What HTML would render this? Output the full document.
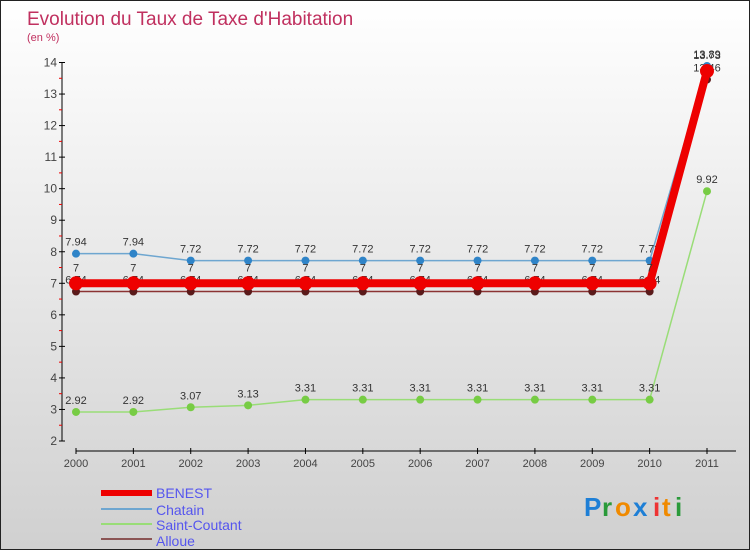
<!DOCTYPE html>
<html><head><meta charset="utf-8"><style>
body{margin:0}
#wrap{width:750px;height:550px;position:relative;overflow:hidden;font-family:"Liberation Sans",sans-serif;background:linear-gradient(#fff,#d0d0d0);box-sizing:border-box;border:1px solid #222}
</style></head><body>
<div id="wrap">
<svg id="svg" width="750" height="550" xmlns="http://www.w3.org/2000/svg">
<text x="26" y="24" font-size="19" fill="#c0305f">Evolution du Taux de Taxe d'Habitation</text>
<text x="26" y="40" font-size="11" fill="#c0305f">(en %)</text>
<g id="axes"></g><g id="series"></g>
<g font-size="14" fill="#5555ee">
<rect x="100" y="489" width="51" height="6" fill="#e00"/>
<text x="155" y="497">BENEST</text>
<rect x="100" y="507" width="51" height="2" fill="#6ea6d0"/>
<text x="155" y="514">Chatain</text>
<rect x="100" y="522" width="51" height="2" fill="#99dd77"/>
<text x="155" y="529">Saint-Coutant</text>
<rect x="100" y="537" width="51" height="2" fill="#8b5555"/>
<text x="155" y="545">Alloue</text>
</g>
<g font-size="26" font-weight="bold">
<text x="583" y="515" fill="#1e7fd6">P</text><text x="601" y="515" fill="#2a9a3a">r</text><text x="614" y="515" fill="#f08a00">o</text><text x="632" y="515" fill="#1e7fd6">x</text><text x="652" y="515" fill="#e33">i</text><text x="661" y="515" fill="#f08a00">t</text><text x="674" y="515" fill="#2a9a3a">i</text>
</g>
</svg>
</div>
<script>
const years=["2000","2001","2002","2003","2004","2005","2006","2007","2008","2009","2010","2011"];
const yTicks=[2,3,4,5,6,7,8,9,10,11,12,13,14];
const benest=[7,7,7,7,7,7,7,7,7,7,7,13.73];
const chatain=[7.94,7.94,7.72,7.72,7.72,7.72,7.72,7.72,7.72,7.72,7.72,13.89];
const saintCoutant=[2.92,2.92,3.07,3.13,3.31,3.31,3.31,3.31,3.31,3.31,3.31,9.92];
const alloue=[6.74,6.74,6.74,6.74,6.74,6.74,6.74,6.74,6.74,6.74,6.74,13.46];
const NS="http://www.w3.org/2000/svg";
const xs=i=>75+i*(706-75)/11;
const ys=v=>440-(v-2)*(440-61.5)/12;
function mk(tag,at,parent){const e=document.createElementNS(NS,tag);for(const k in at)e.setAttribute(k,at[k]);parent.appendChild(e);return e;}
const ax=document.getElementById('axes');
let yl=mk('line',{x1:61,y1:ys(14),x2:61,y2:ys(2),stroke:'#000'},ax);


yTicks.forEach(t=>{
  mk('line',{x1:58,x2:64,y1:ys(t),y2:ys(t),stroke:'#000'},ax);
  if(t<14)mk('line',{x1:58,x2:61,y1:ys(t+0.5),y2:ys(t+0.5),stroke:'#e00'},ax);
  const tx=mk('text',{x:56,y:ys(t)+4,'text-anchor':'end','font-size':12,fill:'#444'},ax);tx.textContent=t;
  
  
});
let xl=mk('line',{x1:75,y1:450,x2:735,y2:450,stroke:'#000'},ax);


years.forEach((y,i)=>{
  mk('line',{x1:xs(i),x2:xs(i),y1:447,y2:453,stroke:'#000'},ax);
  const tx=mk('text',{x:xs(i),y:466,'text-anchor':'middle','font-size':11,fill:'#444'},ax);tx.textContent=y;
  
  
});
const sg=document.getElementById('series');
function draw(name,data,color,w,r,dot,labOff){
  const g=mk('g',{},sg);
  
  
  mk('polyline',{points:data.map((v,i)=>xs(i)+','+ys(v)).join(' '),fill:'none',stroke:color,'stroke-width':w},g);
  data.forEach((v,i)=>{
    const c=mk('circle',{cx:xs(i),cy:ys(v),r:r,fill:dot},g);
    
    
    const t=mk('text',{x:xs(i),y:ys(v)+labOff,'text-anchor':'middle','font-size':11,fill:'#333'},g);
    t.textContent=String(v);
  });
}
draw('saint-coutant',saintCoutant,'#99dd77',1.5,4,'#77cc44',-8);
draw('alloue',alloue,'#8b3333',1.5,4,'#5a1a1a',-8);
draw('chatain',chatain,'#6ea6d0',1.5,4,'#2f84c8',-8);
draw('benest',benest,'#ee0000',8,7,'#ee0000',-12);
</script>
</body></html>
